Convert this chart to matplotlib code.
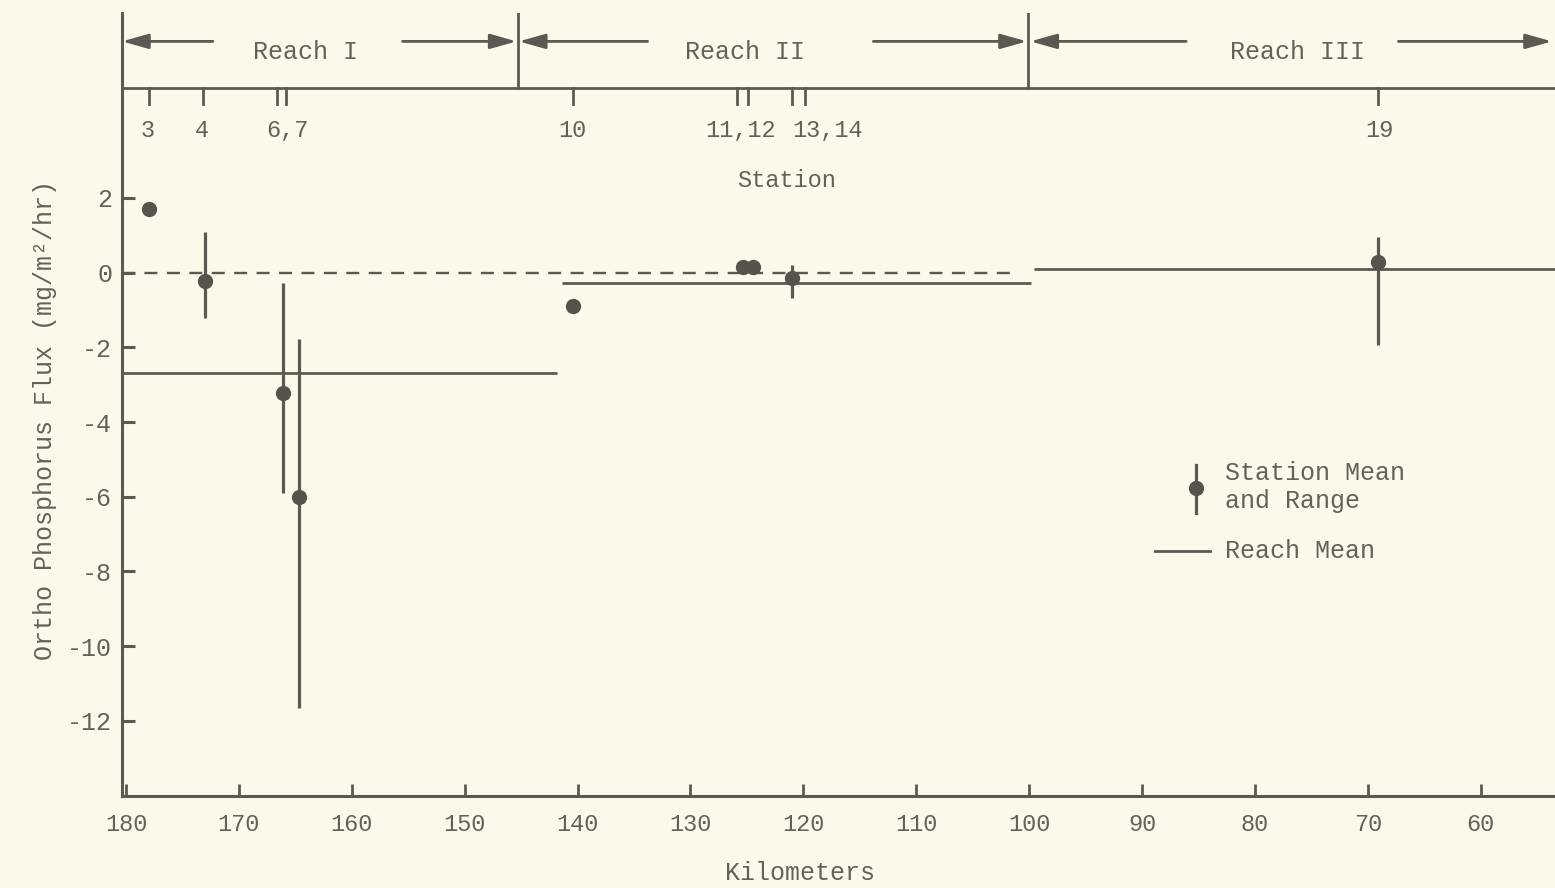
import matplotlib
matplotlib.use("Agg")
import matplotlib.pyplot as plt
import numpy as np

# ---------------- data ----------------
# station tick positions on the upper (station) axis, km
station_tick_km = [178.0, 173.2, 166.6, 165.8, 140.4, 125.9, 124.9, 121.0, 119.9, 69.1]
station_labels = ["3", "4", "6,7", "10", "11,12", "13,14", "19"]
station_label_km = [178.1, 173.3, 165.7, 140.5, 125.6, 117.9, 69.0]

# station means (all stations)
mean_km = [177.96, 173.0, 166.1, 164.7, 140.4, 125.35, 124.5, 121.0, 69.1]
mean_flux = [1.70, -0.23, -3.23, -6.01, -0.90, 0.15, 0.15, -0.15, 0.28]

# stations with a measured range
range_km = [173.0, 166.1, 164.7, 121.0, 69.1]
range_mean = [-0.23, -3.23, -6.01, -0.15, 0.28]
range_low = [-1.22, -5.90, -11.65, -0.68, -1.94]
range_high = [1.08, -0.28, -1.78, 0.20, 0.95]

# reach means
reach_names = ["Reach I", "Reach II", "Reach III"]
reach_start_km = [180.35, 141.4, 99.6]
reach_end_km = [141.8, 99.8, 53.4]
reach_mean = [-2.68, -0.28, 0.09]
reach_bounds_km = [145.3, 100.1]

x_ticks = [180, 170, 160, 150, 140, 130, 120, 110, 100, 90, 80, 70, 60]
y_ticks = [2, 0, -2, -4, -6, -8, -10, -12]

# ---------------- style ----------------
BG = "#fcf8ea"
INK = "#5b5951"
TXT = "#64615a"
FONT = ["Liberation Mono", "DejaVu Sans Mono"]
plt.rcParams["font.family"] = FONT

fig = plt.figure(figsize=(15.55, 8.88), dpi=100, facecolor=BG)
ax = fig.add_axes([122 / 1555, 92 / 888, 1433 / 1555, 783 / 888])
ax.set_facecolor(BG)

XL, XR = 180.35, 53.43
YB, YT = -14.01, 6.95
ax.set_xlim(XL, XR)
ax.set_ylim(YB, YT)

for s in ["top", "right"]:
    ax.spines[s].set_visible(False)
for s in ["left", "bottom"]:
    ax.spines[s].set_color(INK)
    ax.spines[s].set_linewidth(2.2)

ax.set_xticks(x_ticks)
ax.set_xticklabels([str(v) for v in x_ticks])
ax.set_yticks(y_ticks)
ax.set_yticklabels([str(v) for v in y_ticks])
ax.tick_params(axis="x", direction="in", length=9, width=2, color=INK,
               labelsize=17, labelcolor=TXT, pad=12)
ax.tick_params(axis="y", direction="in", length=9, width=2.2, color=INK,
               labelsize=18, labelcolor=TXT, pad=7)

# zero reference (dashed)
ax.plot([XL, 101.4], [0, 0], color=INK, lw=1.7, ls=(0, (5.5, 4)))

# reach means
for xs, xe, m in zip(reach_start_km, reach_end_km, reach_mean):
    ax.plot([xs, xe], [m, m], color=INK, lw=2.0, solid_capstyle="butt")

# station ranges and means
ax.errorbar(range_km, range_mean,
            yerr=[np.array(range_mean) - np.array(range_low),
                  np.array(range_high) - np.array(range_mean)],
            fmt="none", ecolor=INK, elinewidth=2.3, capsize=0)
ax.plot(mean_km, mean_flux, "o", color="#55534b", ms=11, mec="none")

# ---------- station axis (top) ----------
STA_Y = 4.94
ax.plot([XL, XR], [STA_Y, STA_Y], color=INK, lw=2.0, clip_on=False)
for k in station_tick_km:
    ax.plot([k, k], [STA_Y, STA_Y - 0.42], color=INK, lw=2.0)
for lab, k in zip(station_labels, station_label_km):
    ax.text(k, 3.81, lab, ha="center", va="center", fontsize=17, color=TXT)
ax.text(121.5, 2.46, "Station", ha="center", va="center", fontsize=17, color=TXT)

# reach boundaries
for k in reach_bounds_km:
    ax.plot([k, k], [STA_Y, YT], color=INK, lw=2.0)

# reach arrows and labels
ARR_Y = 6.19
arrow_pairs = [
    (172.3, 180.35), (155.5, 145.4),
    (133.8, 145.2), (113.8, 100.2),
    (86.1, 99.9), (67.3, 53.7),
]
label_km = [164.1, 125.2, 76.2]
for (x0, x1) in arrow_pairs:
    ax.annotate("", xy=(x1, ARR_Y), xytext=(x0, ARR_Y),
                arrowprops=dict(arrowstyle="-|>,head_length=1.6,head_width=0.45",
                                color=INK, lw=2.0, shrinkA=0, shrinkB=0),
                annotation_clip=False)
for name, k in zip(reach_names, label_km):
    ax.text(k, 5.9, name, ha="center", va="center", fontsize=18, color=TXT)

# ---------- legend (drawn) ----------
ax.plot([85.2, 85.2], [-5.14, -6.43], color=INK, lw=2.3)
ax.plot([85.2], [-5.76], "o", color="#55534b", ms=11, mec="none")
ax.text(82.7, -5.74, "Station Mean\nand Range", ha="left", va="center",
        fontsize=18, color=TXT, linespacing=1.2)
ax.plot([88.9, 84.0], [-7.46, -7.46], color=INK, lw=2.0)
ax.text(82.7, -7.46, "Reach Mean", ha="left", va="center", fontsize=18, color=TXT)

# axis labels
ax.set_xlabel("Kilometers", fontsize=18, color=TXT)
ax.xaxis.set_label_coords((800 - 122) / 1433, (796 - 873) / 783)
ax.xaxis.label.set_va("center")
ax.set_ylabel("Ortho Phosphorus Flux (mg/m²/hr)", fontsize=18, color=TXT)
ax.yaxis.set_label_coords((45 - 122) / 1433, (796 - 420) / 783)
ax.yaxis.label.set_va("center")

fig.savefig("out.png", dpi=100, facecolor=BG)
